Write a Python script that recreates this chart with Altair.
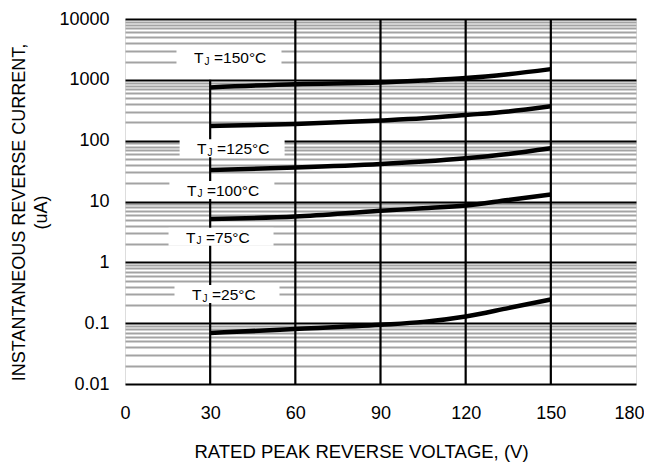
import altair as alt
import pandas as pd

# ---- data ----
voltage = [30, 60, 90, 105, 120, 135, 150]
ir_150 = [750, 850, 905, 975, 1070, 1240, 1500]
ir_125 = [174, 188, 214, 233, 264, 302, 367]
ir_100 = [33.0, 36.2, 41.3, 45.4, 51.3, 60.4, 74.8]
ir_75 = [5.15, 5.66, 7.03, 7.73, 8.6, 10.6, 13.0]
ir_25 = [0.069, 0.080, 0.094, 0.105, 0.129, 0.177, 0.245]

series_names = ["150", "125", "100", "75", "25"]
label_x = [24.3, 25.4, 21.8, 21.5, 23.6]
label_y = [2256, 72, 14.9, 2.54, 0.29]

x_ticks = [0, 30, 60, 90, 120, 150, 180]
x_grid = [30, 60, 90, 120, 150]
x_grid_top = [1000, 10000, 10000, 10000, 10000]
decades = [0.01, 0.1, 1, 10, 100, 1000, 10000]
minor_mult = [2, 3, 4, 5, 6, 7, 8, 9]

y_ticks = decades + [round(m * d, 6) for d in decades[:-1] for m in minor_mult]

# ---- tables ----
curves = []
for name, vals in zip(series_names, [ir_150, ir_125, ir_100, ir_75, ir_25]):
    for v, i in zip(voltage, vals):
        curves.append({"series": name, "v": v, "i": i})
curves = pd.DataFrame(curves)

labels = pd.DataFrame({
    "x": label_x,
    "y": label_y,
    "rest": ["=" + s + "\u00b0C" for s in series_names],
})

grid = pd.DataFrame({"x": x_grid, "y0": [0.01] * len(x_grid), "y1": x_grid_top})

FONT = "Liberation Sans"
is_major = "abs(log(datum.value)/LN10 - round(log(datum.value)/LN10)) < 0.001"

x_scale = alt.Scale(domain=[0, 180], nice=False, zero=False)
y_scale = alt.Scale(type="log", domain=[0.01, 10000], nice=False)

x_axis = alt.Axis(
    values=x_ticks, grid=False, ticks=False, tickSize=0, domain=False,
    labelFlush=False, labelPadding=20, labelFontSize=18, labelFont=FONT,
    labelColor="black", labelOverlap=False,
    labelOffset={"condition": {"test": "datum.value >= 180", "value": -7}, "value": 0},
    title="RATED PEAK REVERSE VOLTAGE, (V)", titleFont=FONT, titleFontSize=18.5,
    titleFontWeight="normal", titleColor="black",
    titleX=236, titleY=58, titleAlign="center", titleBaseline="top",
)
y_axis = alt.Axis(
    values=y_ticks, grid=True,
    gridColor={"condition": {"test": is_major, "value": "#000000"}, "value": "#a3a3a3"},
    gridWidth=2, ticks=False, tickSize=0, domain=False,
    labelExpr=is_major + " ? format(datum.value, '~g') : ''",
    labelOverlap=False, labelFlush=False, labelPadding=16, labelFontSize=18,
    labelFont=FONT, labelColor="black",
    title=["INSTANTANEOUS REVERSE CURRENT,", "(uA)"], titleFont=FONT,
    titleFontSize=18, titleFontWeight="normal", titleColor="black",
    titleX=-115, titleY=193, titleAlign="center", titleBaseline="top",
    titleAngle=270, titleLineHeight=22,
)

rules = alt.Chart(grid).mark_rule(color="black", strokeWidth=2.2).encode(
    x=alt.X("x:Q", scale=x_scale, axis=x_axis),
    y=alt.Y("y0:Q", scale=y_scale, axis=y_axis),
    y2="y1:Q",
)

box_path = "M-1,-0.1714L1,-0.1714L1,0.1714L-1,0.1714Z"
boxes = alt.Chart(labels).mark_point(
    shape=box_path, size=11025, filled=True, fill="white", opacity=1,
    strokeWidth=0, xOffset=35, yOffset=-1,
).encode(
    x=alt.X("x:Q", scale=x_scale, axis=x_axis),
    y=alt.Y("y:Q", scale=y_scale, axis=y_axis),
)

base_text = alt.Chart(labels).encode(
    x=alt.X("x:Q", scale=x_scale, axis=x_axis),
    y=alt.Y("y:Q", scale=y_scale, axis=y_axis),
)
t_main = base_text.mark_text(align="left", baseline="middle", fontSize=15.5,
                             font=FONT, color="black").encode(text=alt.value("T"))
t_sub = base_text.mark_text(align="left", baseline="middle", fontSize=10,
                            font=FONT, color="black", dx=10.5, dy=3.5).encode(text=alt.value("J"))
t_rest = base_text.mark_text(align="left", baseline="middle", fontSize=15.5,
                             font=FONT, color="black", dx=20).encode(text="rest:N")

lines = alt.Chart(curves).mark_line(color="black", strokeWidth=4.5,
                                    interpolate="monotone").encode(
    x=alt.X("v:Q", scale=x_scale, axis=x_axis),
    y=alt.Y("i:Q", scale=y_scale, axis=y_axis),
    detail="series:N",
)

chart = alt.layer(rules, boxes, t_main, t_sub, t_rest, lines).properties(
    width=511, height=365,
    autosize=alt.AutoSizeParams(type="none"),
    padding={"left": 117, "top": 11, "right": 8, "bottom": 80},
).configure_view(stroke="black", strokeWidth=2.5).configure(font=FONT)

chart.save("out.html", embed_options={"renderer": "svg", "actions": False})
